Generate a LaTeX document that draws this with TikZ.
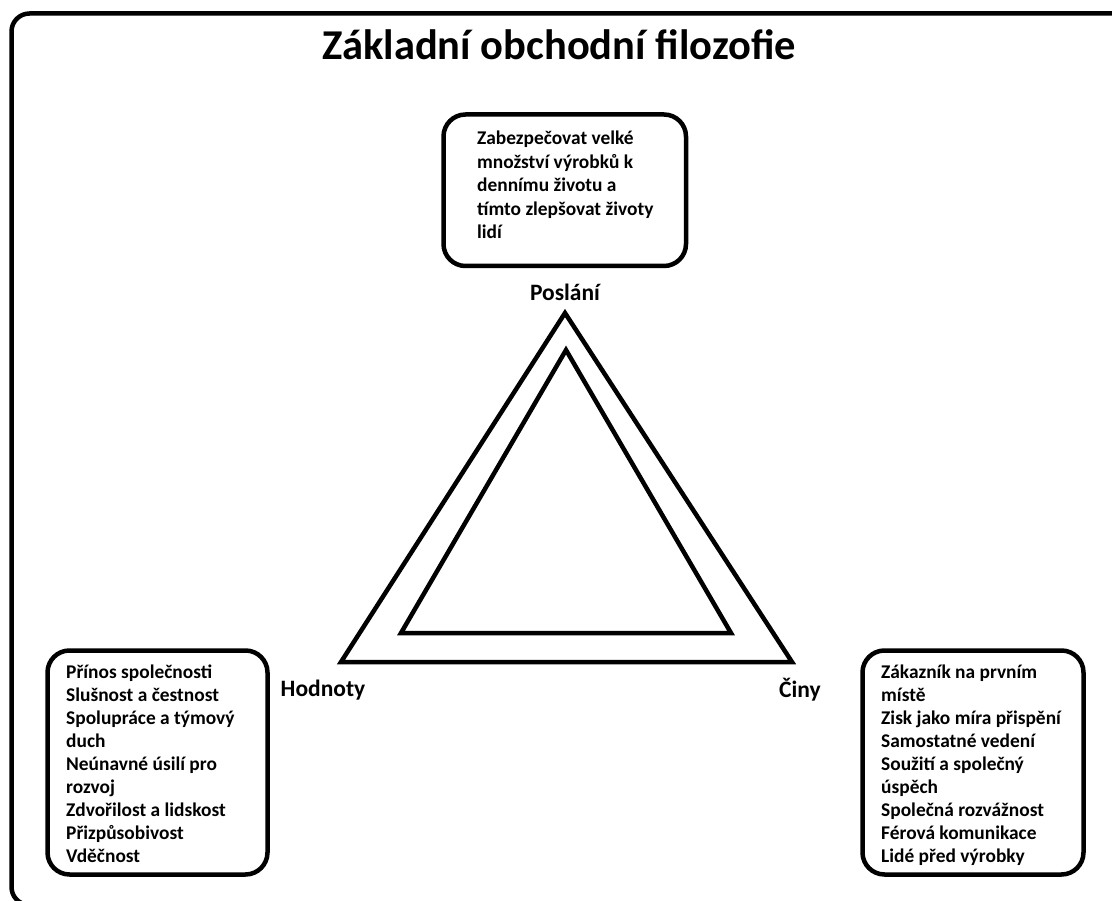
\documentclass[tikz,border=0pt]{standalone}
\usepackage{fontspec}
\setmainfont{Carlito}
\usetikzlibrary{positioning}

\begin{document}
\begin{tikzpicture}[x=1pt, y=-1pt,
	thick line/.style={line width=4.5pt, line join=miter},
	roundbox/.style={draw, line width=4.5pt, rounded corners=22pt},
	boxtext/.style={anchor=north west, align=left, inner sep=0pt, font=\bfseries\fontsize{19.4}{22.9}\selectfont},
	corner label/.style={font=\bfseries\fontsize{23.5}{26}\selectfont}]
	\useasboundingbox (0,0) rectangle (1112,901);
	\clip (0,0) rectangle (1112,901);
	
	\draw [line width=4.5pt, rounded corners=18pt] (11.5,13.5) rectangle (1140,905);
	\node (title) at (559,45) {\bfseries\fontsize{42.5}{46}\selectfont Základní obchodní filozofie};
	
	% boxes
	\draw [roundbox] (443.5,114.5) rectangle (686,266);
	\node [boxtext, font=\bfseries\fontsize{19.4}{23.4}\selectfont] (mission) at (477,131) {Zabezpečovat velké\\ množství výrobků k\\ dennímu životu a\\ tímto zlepšovat životy\\ lidí};
	
	\draw [roundbox] (47.5,650.5) rectangle (267.5,874.5);
	\node [boxtext] (values) at (66,665) {Přínos společnosti\\ Slušnost a čestnost\\ Spolupráce a týmový\\ duch\\ Neúnavné úsilí pro\\ rozvoj\\ Zdvořilost a lidskost\\ Přizpůsobivost\\ Vděčnost};
	
	\draw [roundbox] (862.5,650.5) rectangle (1083.5,874.5);
	\node [boxtext] (deeds) at (881,665) {Zákazník na prvním\\ místě\\ Zisk jako míra přispění\\ Samostatné vedení\\ Soužití a společný\\ úspěch\\ Společná rozvážnost\\ Férová komunikace\\ Lidé před výrobky};
	
	% triangle
	\coordinate (top) at (565,313);
	\coordinate (left) at (341,662);
	\coordinate (right) at (792,662);
	\draw [thick line] (top) -- (left) -- (right) -- cycle;
	\draw [thick line] (566,350) -- (401,633) -- (731,633) -- cycle;
	
	\node [corner label] (poslani) at (565,292) {Poslání};
	\node [corner label] (hodnoty) at (323,690) {Hodnoty};
	\node [corner label] (ciny) at (800,690) {Činy};
\end{tikzpicture}
\end{document}
